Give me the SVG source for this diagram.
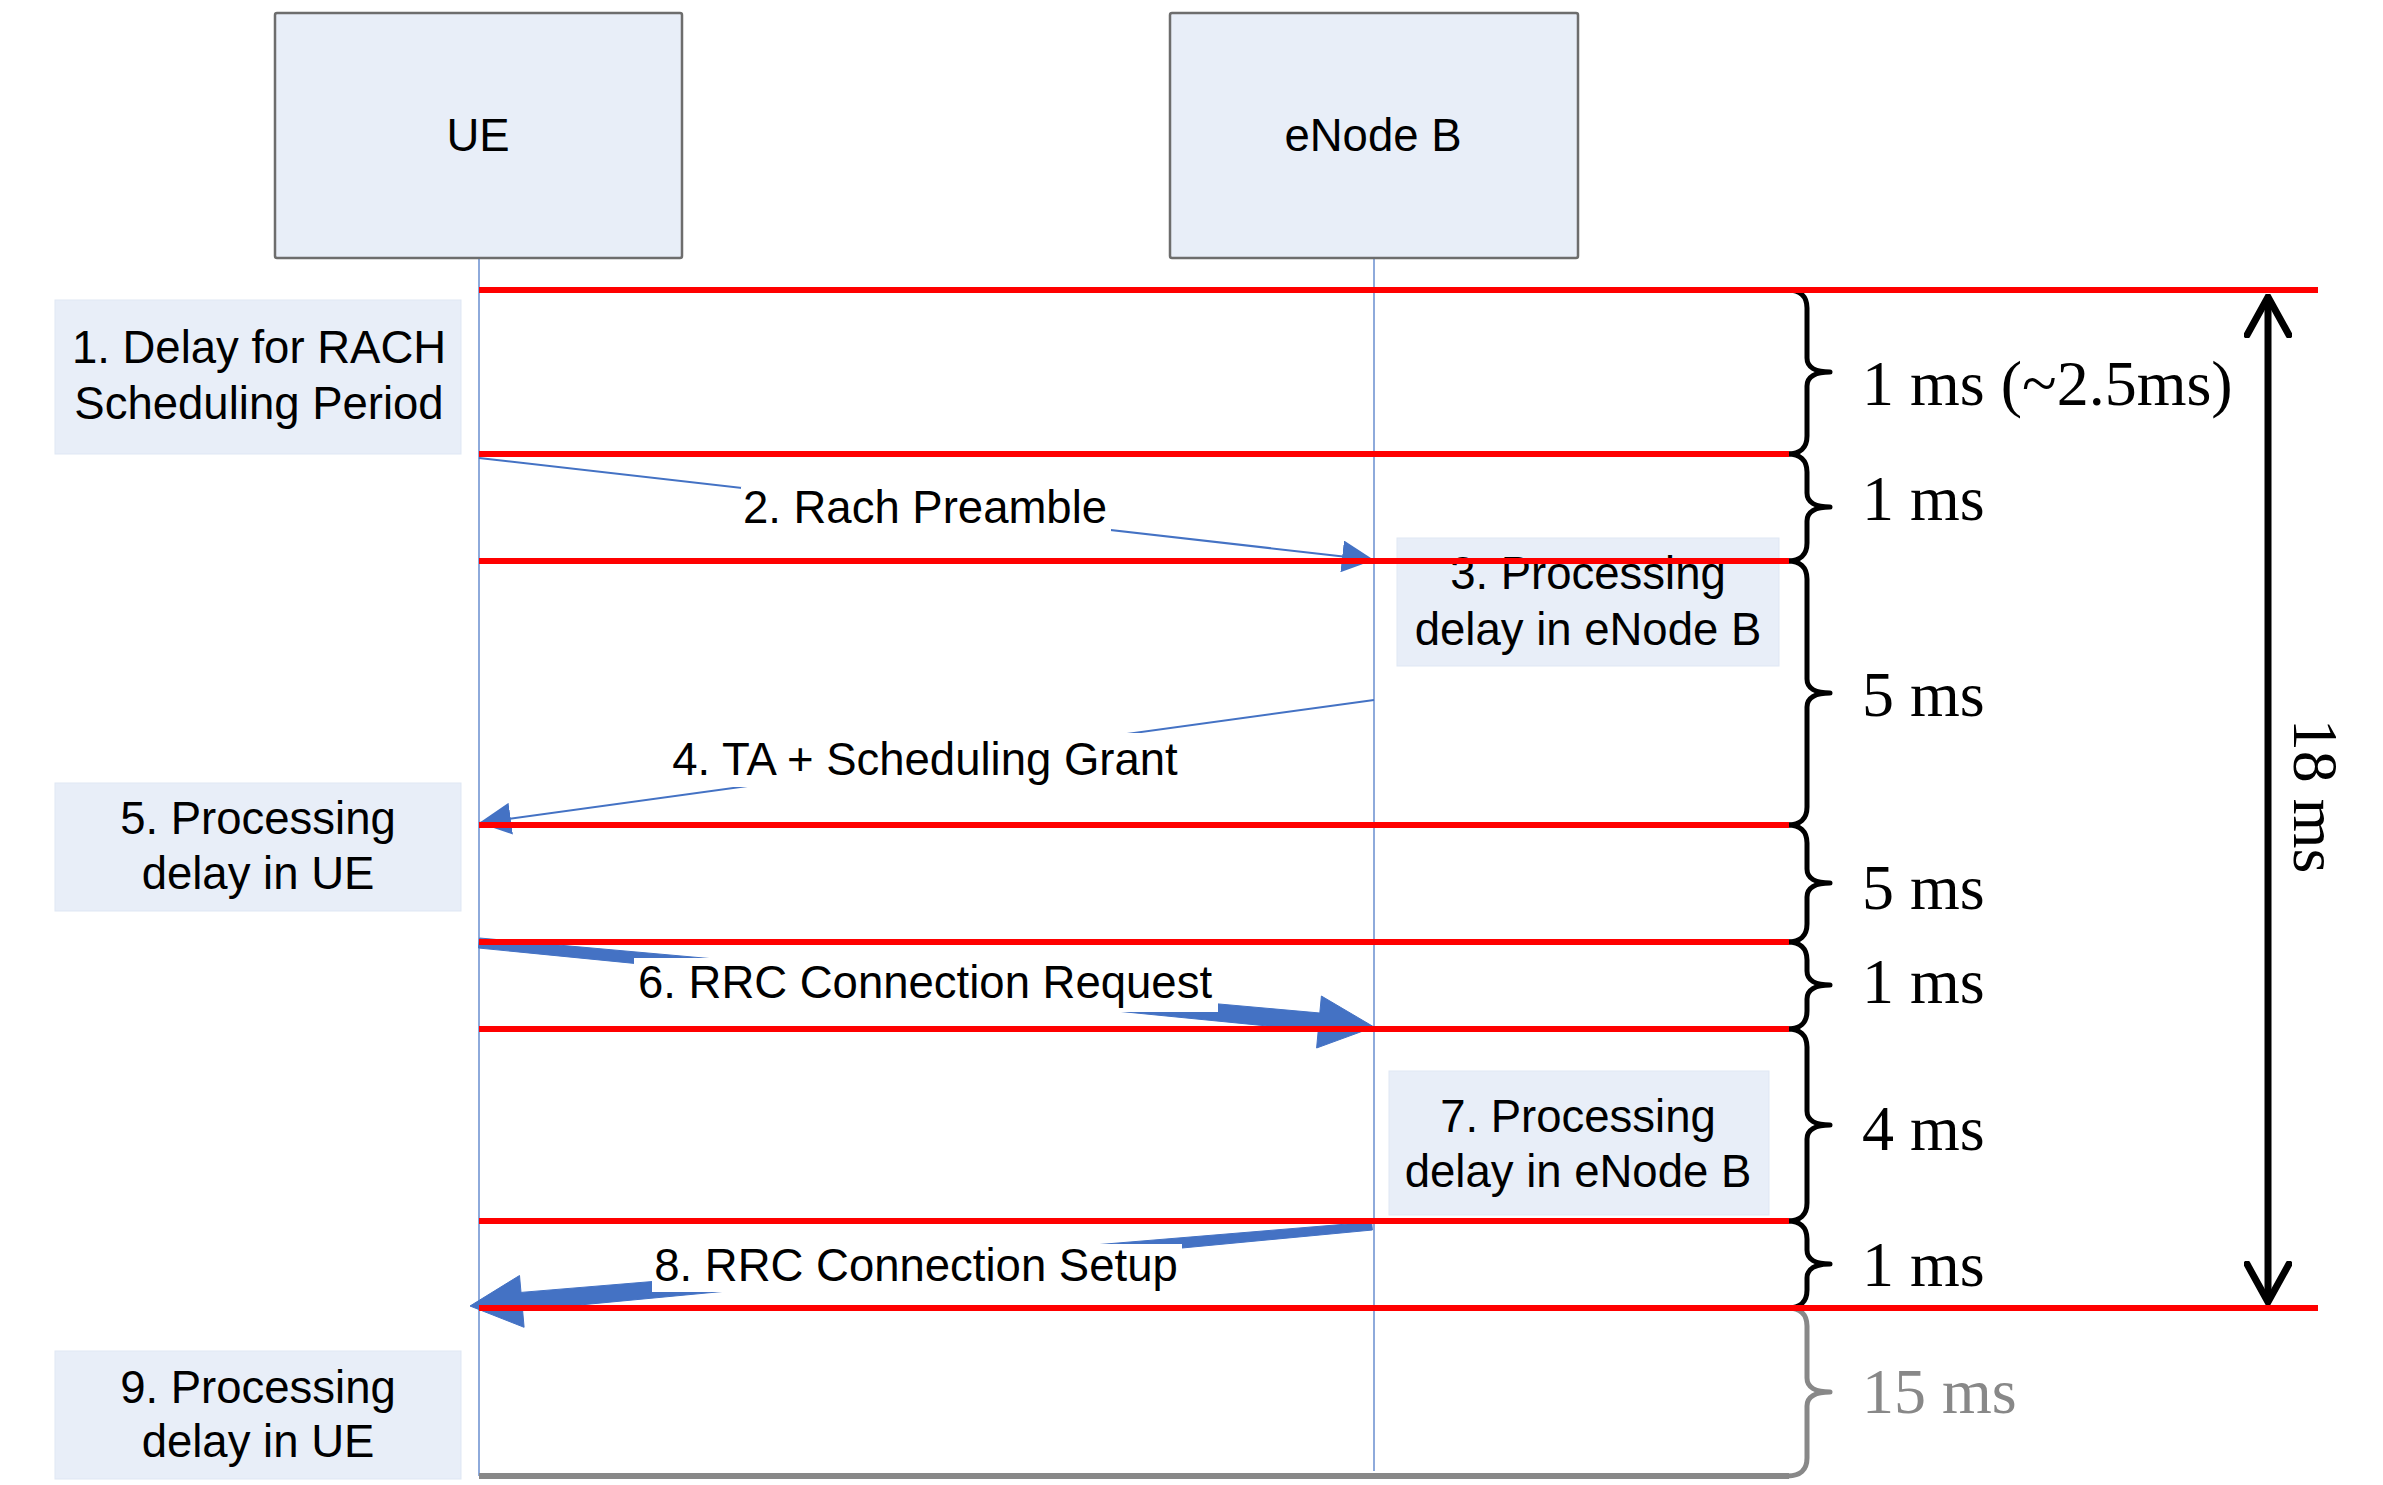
<svg xmlns="http://www.w3.org/2000/svg" width="2383" height="1485" viewBox="0 0 2383 1485">
<style>
.actor{fill:#E8EEF8;stroke:#6d6d6d;stroke-width:2.5}
.note{fill:#E8EEF8;stroke:#dfe7f4;stroke-width:1}
.life{stroke:#8EAADB;stroke-width:2;fill:none}
.t{font-family:"Liberation Sans",Arial,sans-serif;font-size:45.5px;fill:#000;text-anchor:middle}
.ms{font-family:"Liberation Serif","Times New Roman",serif;font-size:64px;fill:#000}
.thin{stroke:#4472C4;stroke-width:2;fill:none;marker-end:url(#ah)}
.thick{fill:#4472C4;stroke:#4472C4;stroke-width:1;stroke-linejoin:round}
.bg{fill:#fff}
.red{stroke:#FF0000;stroke-width:6}
.brace{fill:none;stroke:#000;stroke-width:5;stroke-linejoin:round}
.gbrace{fill:none;stroke:#888;stroke-width:5;stroke-linejoin:round}
</style>
<defs>
<marker id="ah" viewBox="0 0 32 32" refX="32" refY="16" markerWidth="32" markerHeight="32" markerUnits="userSpaceOnUse" orient="auto">
<path d="M0,0 L32,16 L0,32 z" fill="#4472C4"/>
</marker>
<marker id="chev" viewBox="0 0 44 48" refX="41" refY="24" markerWidth="44" markerHeight="48" markerUnits="userSpaceOnUse" orient="auto-start-reverse">
<path d="M3,3 L41,24 L3,45" fill="none" stroke="#000" stroke-width="7" stroke-linecap="round" stroke-linejoin="miter"/>
</marker>
</defs>
<rect width="2383" height="1485" fill="#fff"/>

<g id="lifelines">
<line class="life" x1="479" y1="257" x2="479" y2="1476"/>
<line class="life" x1="1374" y1="257" x2="1374" y2="1471"/>
</g>

<g id="node-ue">
<rect class="actor" x="275" y="13" width="407" height="245" rx="2"/>
<text class="t" x="478" y="151">UE</text>
</g>
<g id="node-enb">
<rect class="actor" x="1170" y="13" width="408" height="245" rx="2"/>
<text class="t" x="1373" y="151">eNode B</text>
</g>

<g id="node-step1">
<rect class="note" x="55" y="300" width="406" height="154"/>
<text class="t" x="259" y="363">1. Delay for RACH</text>
<text class="t" x="259" y="419">Scheduling Period</text>
</g>
<g id="node-step3">
<rect class="note" x="1397" y="538" width="382" height="128"/>
<text class="t" x="1588" y="589">3. Processing</text>
<text class="t" x="1588" y="645">delay in eNode B</text>
</g>
<g id="node-step5">
<rect class="note" x="55" y="783" width="406" height="128"/>
<text class="t" x="258" y="834">5. Processing</text>
<text class="t" x="258" y="889">delay in UE</text>
</g>
<g id="node-step7">
<rect class="note" x="1389" y="1071" width="380" height="144"/>
<text class="t" x="1578" y="1132">7. Processing</text>
<text class="t" x="1578" y="1187">delay in eNode B</text>
</g>
<g id="node-step9">
<rect class="note" x="55" y="1351" width="406" height="128"/>
<text class="t" x="258" y="1403">9. Processing</text>
<text class="t" x="258" y="1457">delay in UE</text>
</g>

<g id="connectors">
<path id="msg2" class="thin" d="M479,458 L1374,560"/>
<path id="msg4" class="thin" d="M1374,700 L479,823"/>
<polygon id="msg6" class="thick" points="479.5,938 1319.8,1013 1321.4,996 1374,1027 1316.6,1048 1318.2,1031 478.5,948"/>
<polygon id="msg8" class="thick" points="1371.6,1222 1372.4,1230 522.6,1310.4 524.1,1327.3 470,1306 519.5,1275.5 521,1292.4"/>
</g>

<g id="connector-labels">
<rect class="bg" x="741" y="487" width="370" height="45"/>
<text class="t" x="925" y="523">2. Rach Preamble</text>
<rect class="bg" x="665" y="733" width="520" height="54"/>
<text class="t" x="925" y="775">4. TA + Scheduling Grant</text>
<rect class="bg" x="634" y="958" width="584" height="54"/>
<text class="t" x="925" y="998">6. RRC Connection Request</text>
<rect class="bg" x="652" y="1244" width="530" height="48"/>
<text class="t" x="916" y="1281">8. RRC Connection Setup</text>
</g>

<g id="braces">
<path class="brace" d="M1788,290 C1800,290 1807,296 1807,308 L1807,358 C1807,367 1815,372 1830,372 C1815,372 1807,377 1807,386 L1807,436 C1807,448 1800,454 1788,454"/>
<path class="brace" d="M1788,454 C1800,454 1807,460 1807,472 L1807,493 C1807,502 1815,507 1830,507 C1815,507 1807,512 1807,521 L1807,543 C1807,555 1800,561 1788,561"/>
<path class="brace" d="M1788,561 C1800,561 1807,567 1807,579 L1807,679 C1807,688 1815,693 1830,693 C1815,693 1807,698 1807,707 L1807,807 C1807,819 1800,825 1788,825"/>
<path class="brace" d="M1788,825 C1800,825 1807,831 1807,843 L1807,869 C1807,878 1815,883 1830,883 C1815,883 1807,888 1807,897 L1807,924 C1807,936 1800,942 1788,942"/>
<path class="brace" d="M1788,942 C1800,942 1807,948 1807,960 L1807,971 C1807,980 1815,985 1830,985 C1815,985 1807,990 1807,999 L1807,1011 C1807,1023 1800,1029 1788,1029"/>
<path class="brace" d="M1788,1029 C1800,1029 1807,1035 1807,1047 L1807,1111 C1807,1120 1815,1125 1830,1125 C1815,1125 1807,1130 1807,1139 L1807,1203 C1807,1215 1800,1221 1788,1221"/>
<path class="brace" d="M1788,1221 C1800,1221 1807,1227 1807,1239 L1807,1250 C1807,1259 1815,1264 1830,1264 C1815,1264 1807,1269 1807,1278 L1807,1290 C1807,1302 1800,1308 1788,1308"/>
<path class="gbrace" d="M1788,1308 C1800,1308 1807,1314 1807,1326 L1807,1378 C1807,1387 1815,1392 1830,1392 C1815,1392 1807,1397 1807,1406 L1807,1458 C1807,1470 1800,1476 1788,1476"/>
<text class="ms" x="1862" y="405">1 ms (~2.5ms)</text>
<text class="ms" x="1862" y="520">1 ms</text>
<text class="ms" x="1862" y="716">5 ms</text>
<text class="ms" x="1862" y="909">5 ms</text>
<text class="ms" x="1862" y="1003">1 ms</text>
<text class="ms" x="1862" y="1150">4 ms</text>
<text class="ms" x="1862" y="1286">1 ms</text>
<text class="ms" x="1862" y="1413" style="fill:#888">15 ms</text>
</g>

<g id="total">
<line x1="2268" y1="297" x2="2268" y2="1302" stroke="#000" stroke-width="7" marker-start="url(#chev)" marker-end="url(#chev)"/>
<text class="ms" x="0" y="0" text-anchor="middle" transform="translate(2294,796) rotate(90)">18 ms</text>
</g>

<g id="timeline">
<line class="red" x1="479" y1="290" x2="2318" y2="290"/>
<line class="red" x1="479" y1="454" x2="1789" y2="454"/>
<line class="red" x1="479" y1="561" x2="1789" y2="561"/>
<line class="red" x1="479" y1="825" x2="1789" y2="825"/>
<line class="red" x1="479" y1="942" x2="1789" y2="942"/>
<line class="red" x1="479" y1="1029" x2="1789" y2="1029"/>
<line class="red" x1="479" y1="1221" x2="1789" y2="1221"/>
<line class="red" x1="479" y1="1308" x2="2318" y2="1308"/>
<line x1="479" y1="1476" x2="1789" y2="1476" stroke="#888" stroke-width="6"/>
</g>
</svg>
